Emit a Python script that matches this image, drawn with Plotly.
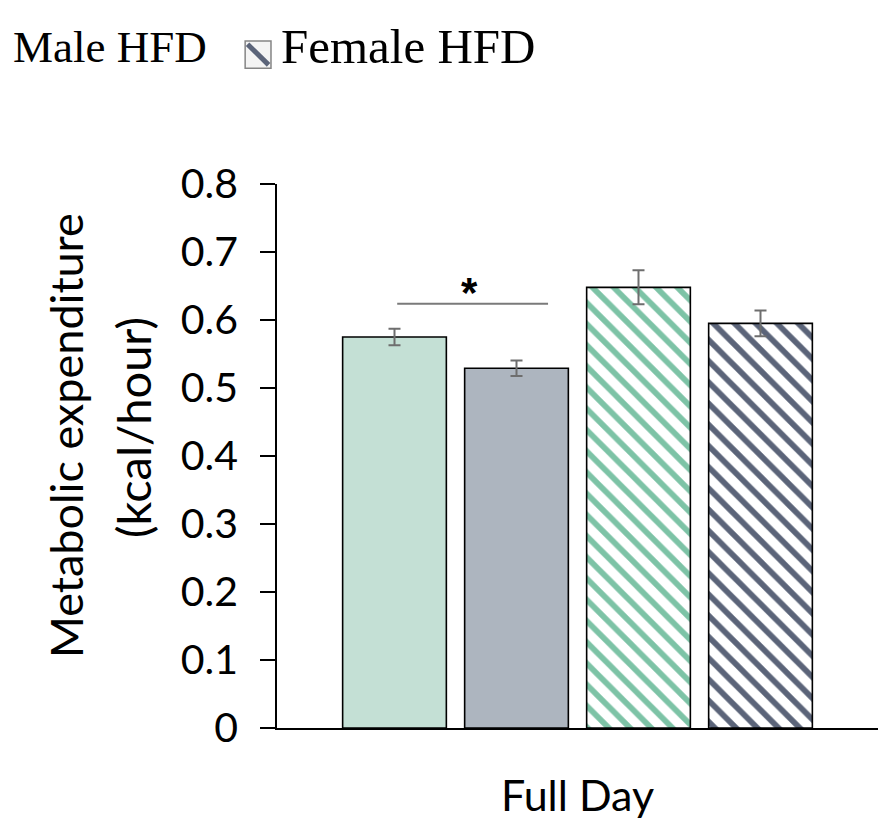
import plotly.graph_objects as go

groups = ["Male Chow", "Female Chow", "Male HFD", "Female HFD"]
category = ["Full Day"]
values = [0.575, 0.529, 0.648, 0.595]
errors = [0.012, 0.0115, 0.025, 0.019]
fills = ["#c4e0d5", "#adb5bf", "white", "white"]
patterns = ["", "", "\\", "\\"]
pattern_colors = ["#c4e0d5", "#adb5bf", "#7dc3a6", "#5b6479"]
y_ticks = [0, 0.1, 0.2, 0.3, 0.4, 0.5, 0.6, 0.7, 0.8]
y_tick_labels = ["0", "0.1", "0.2", "0.3", "0.4", "0.5", "0.6", "0.7", "0.8"]

FONT = "Lato, 'Open Sans', sans-serif"
SERIF = "'Liberation Serif', 'Times New Roman', serif"

fig = go.Figure()
for g, v, e, f, p, pc in zip(groups, values, errors, fills, patterns, pattern_colors):
    fig.add_trace(go.Bar(
        name=g, x=category, y=[v],
        marker=dict(color=f, line=dict(color="black", width=1.6),
                    pattern=dict(shape=p, fgcolor=pc, fgopacity=1, bgcolor="white",
                                 size=15, solidity=0.38) if p else None),
        error_y=dict(type="data", array=[e], color="#6e6e6e", thickness=2, width=6),
        showlegend=False,
    ))

# page body has an 8px margin, so the figure is shrunk by 8px and margins shifted
fig.update_layout(
    width=884, height=825,
    margin=dict(l=269, r=14, t=176, b=105),
    paper_bgcolor="white", plot_bgcolor="white",
    barmode="group", bargap=0.188, bargroupgap=0.15,
    font=dict(family=FONT, color="black"),
    showlegend=False,
)
fig.update_yaxes(
    range=[0, 0.8], tickvals=y_ticks, ticktext=y_tick_labels,
    showline=True, linecolor="black", linewidth=1.5,
    ticks="outside", ticklen=15, tickwidth=1.5, tickcolor="black",
    showgrid=False, zeroline=False,
    tickfont=dict(size=41, family=FONT, color="black"),
    ticklabelstandoff=14,
)
fig.update_xaxes(
    showline=True, linecolor="black", linewidth=1.5,
    ticks="", showgrid=False,
    tickfont=dict(size=43, family=FONT, color="black"),
    ticklabelstandoff=30,
)

# y axis title (two lines)
fig.add_annotation(text="Metabolic expenditure", xref="paper", yref="paper",
                   x=-0.351, y=0.537, xanchor="center", yanchor="middle",
                   textangle=-90, showarrow=False,
                   font=dict(size=45, family=FONT, color="black"))
fig.add_annotation(text="(kcal/hour)", xref="paper", yref="paper",
                   x=-0.240, y=0.553, xanchor="center", yanchor="middle",
                   textangle=-90, showarrow=False,
                   font=dict(size=47, family=FONT, color="black"))

# significance bracket
sig_x = [-0.300, -0.049]
sig_y = 0.624
fig.add_shape(type="line", xref="x", yref="y", x0=sig_x[0], x1=sig_x[1], y0=sig_y, y1=sig_y,
              line=dict(color="#7a7a7a", width=2))
fig.add_annotation(text="<b>*</b>", xref="x", yref="y", x=-0.179, y=0.640,
                   xanchor="center", yanchor="middle", showarrow=False,
                   font=dict(size=42, family="'Liberation Sans', Arial, sans-serif", color="black"))

# legend (partly cropped at left in the reference)
fig.add_annotation(text="Male HFD", xref="paper", yref="paper", x=-0.443, y=1.252,
                   xanchor="left", yanchor="middle", showarrow=False,
                   font=dict(size=45, family=SERIF, color="black"))
fig.add_annotation(text="Female HFD", xref="paper", yref="paper", x=0.003, y=1.252,
                   xanchor="left", yanchor="middle", showarrow=False,
                   font=dict(size=49, family=SERIF, color="black"))
fig.add_shape(type="rect", xref="paper", yref="paper", x0=-0.053, x1=-0.010, y0=1.213, y1=1.263,
              line=dict(color="#858585", width=1.5), fillcolor="#f4f4f4")
fig.add_shape(type="line", xref="paper", yref="paper", x0=-0.049, x1=-0.014, y0=1.257, y1=1.219,
              line=dict(color="#5b6479", width=5))

fig.write_html("out.html")
